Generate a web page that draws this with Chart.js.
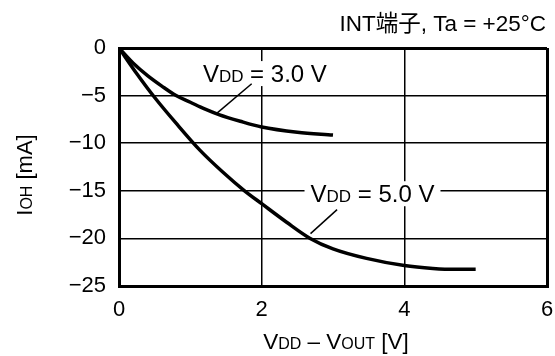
<!DOCTYPE html>
<html>
<head>
<meta charset="utf-8">
<script src="https://cdn.jsdelivr.net/npm/chart.js@4"></script>
<style>
html, body { margin: 0; padding: 0; background: #fff; }
#wrap { width: 555px; height: 356px; }
</style>
</head>
<body>
<div id="wrap"><canvas id="myChart"></canvas></div>
<script>
// values
var vdd3X = [0, 0.2, 0.4, 0.6, 0.8, 1.0, 1.2, 1.4, 1.7, 2.0, 2.5, 3.0];
var vdd3Y = [0, -1.6, -2.9, -4.0, -5.0, -5.7, -6.4, -7.0, -7.7, -8.3, -8.85, -9.15];
var vdd5X = [0, 0.25, 0.5, 0.8, 1.13, 1.45, 1.76, 2.0, 2.35, 2.68, 3.0, 3.47, 4.0, 4.4, 4.7, 5.0];
var vdd5Y = [0, -2.7, -5.2, -7.9, -10.7, -13.0, -15.0, -16.35, -18.3, -20.0, -21.1, -22.1, -22.85, -23.15, -23.25, -23.25];
var xTicks = [0, 2, 4, 6];
var yTicks = [0, -5, -10, -15, -20, -25];

var FONT = '"Liberation Sans", Arial, "Noto Sans CJK JP", sans-serif';

function pts(xs, ys) {
  return xs.map(function (x, i) { return { x: x, y: ys[i] }; });
}

// draws text made of pieces with different sizes on one baseline
function richText(ctx, parts, x, y, align) {
  var w = 0;
  parts.forEach(function (p) {
    ctx.font = p[1] + 'px ' + FONT;
    w += ctx.measureText(p[0]).width;
  });
  var cx = align === 'right' ? x - w : (align === 'center' ? x - w / 2 : x);
  ctx.textAlign = 'left';
  ctx.textBaseline = 'alphabetic';
  parts.forEach(function (p) {
    ctx.font = p[1] + 'px ' + FONT;
    ctx.fillText(p[0], cx, y);
    cx += ctx.measureText(p[0]).width;
  });
  return w;
}

var labels = {
  id: 'labels',
  afterDraw: function (chart) {
    var ctx = chart.ctx;
    var xs = chart.scales.x, ys = chart.scales.y;
    var ca = chart.chartArea;
    ctx.save();
    ctx.fillStyle = '#000';

    // title
    richText(ctx, [['INT端子, Ta = +25°C', 22.5]], 546, 31, 'right');

    // axis titles
    richText(ctx, [['V', 22.5], ['DD', 16], [' \u2013 V', 22.5], ['OUT', 16], [' [V]', 22.5]],
      (ca.left + ca.right) / 2 + 3, 349, 'center');
    ctx.save();
    ctx.translate(32, (ca.top + ca.bottom) / 2 + 8);
    ctx.rotate(-Math.PI / 2);
    richText(ctx, [['I', 22], ['OH', 16], [' [mA]', 22]], 0, 0, 'center');
    ctx.restore();

    // curve labels with leader lines
    var notes = [
      { x: 1.176, y: -3.58, text: ' = 3.0 V', lx1: 1.86, ly1: -3.75, lx2: 1.37, ly2: -6.87 },
      { x: 2.685, y: -16.2, text: ' = 5.0 V', lx1: 3.057, ly1: -16.98, lx2: 2.685, ly2: -19.5 }
    ];
    notes.forEach(function (n) {
      var px = xs.getPixelForValue(n.x), py = ys.getPixelForValue(n.y);
      ctx.font = '24px ' + FONT;
      var w = ctx.measureText('V' + n.text).width;
      ctx.font = '17px ' + FONT;
      w += ctx.measureText('DD').width;
      ctx.fillStyle = '#fff';
      ctx.fillRect(px - 6, py - 21, w + 12, 25);
      ctx.fillStyle = '#000';
      richText(ctx, [['V', 24], ['DD', 17], [n.text, 24]], px, py, 'left');
      ctx.strokeStyle = '#000';
      ctx.lineWidth = 1.5;
      ctx.beginPath();
      ctx.moveTo(xs.getPixelForValue(n.lx1), ys.getPixelForValue(n.ly1));
      ctx.lineTo(xs.getPixelForValue(n.lx2), ys.getPixelForValue(n.ly2));
      ctx.stroke();
    });
    ctx.restore();
  }
};

function edgeWidth(ends) {
  return function (c) {
    return (c.tick && ends.indexOf(c.tick.value) >= 0) ? 3 : 1.5;
  };
}

var config = {
  type: 'scatter',
  data: {
    datasets: [
      { label: 'VDD = 3.0 V', data: pts(vdd3X, vdd3Y) },
      { label: 'VDD = 5.0 V', data: pts(vdd5X, vdd5Y) }
    ]
  },
  options: {
    responsive: true,
    maintainAspectRatio: false,
    animation: false,
    layout: { padding: { top: 48, right: 8, left: 0, bottom: 0 } },
    elements: {
      point: { radius: 0 },
      line: { borderColor: '#000', borderWidth: 3.5, cubicInterpolationMode: 'monotone', fill: false }
    },
    datasets: { scatter: { showLine: true } },
    plugins: {
      legend: { display: false },
      tooltip: { enabled: false }
    },
    scales: {
      x: {
        type: 'linear',
        min: 0, max: 6,
        afterBuildTicks: function (s) { s.ticks = xTicks.map(function (v) { return { value: v }; }); },
        afterFit: function (s) { s.height = 70; s.paddingLeft = 0; s.paddingRight = 0; },
        grid: { color: '#000', lineWidth: edgeWidth([0, 6]), drawTicks: false },
        border: { display: true, color: '#000', width: 3 },
        ticks: { color: '#000', padding: 11, font: { family: FONT, size: 22 } }
      },
      y: {
        type: 'linear',
        min: -25, max: 0,
        afterBuildTicks: function (s) { s.ticks = yTicks.map(function (v) { return { value: v }; }); },
        afterFit: function (s) { s.width = 119; s.paddingTop = 0; s.paddingBottom = 0; },
        grid: { color: '#000', lineWidth: edgeWidth([0, -25]), drawTicks: false },
        border: { display: true, color: '#000', width: 3 },
        ticks: {
          color: '#000', padding: 13, font: { family: FONT, size: 22 },
          callback: function (v) { return v < 0 ? '\u2212' + Math.abs(v) : String(v); }
        }
      }
    }
  },
  plugins: [labels]
};

var ctx1 = document.getElementById('myChart').getContext('2d');
var mychart1 = new Chart(ctx1, config);
</script>
</body>
</html>
